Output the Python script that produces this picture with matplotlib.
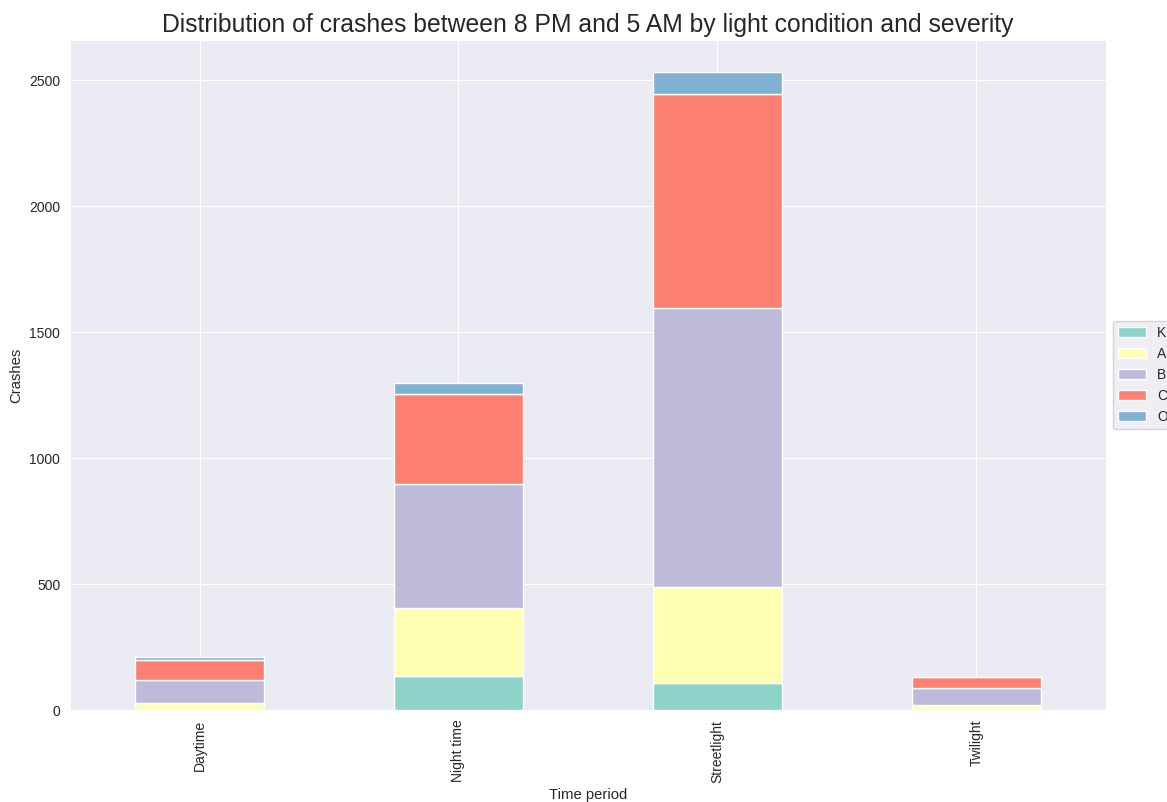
import numpy as np
import matplotlib
matplotlib.use("Agg")
import matplotlib.pyplot as plt
import seaborn as sns

sns.set_style("darkgrid")
plt.rcParams['font.family'] = ['Liberation Sans', 'DejaVu Sans']

# crash counts per light condition, stacked by severity
periods = ['Daytime', 'Night time', 'Streetlight', 'Twilight']
severity = ['K', 'A', 'B', 'C', 'O']
k_counts = [2, 136, 107, 3]
a_counts = [26, 267, 383, 15]
b_counts = [92, 494, 1105, 68]
c_counts = [78, 358, 850, 45]
o_counts = [12, 43, 87, 1]

colors = ['#8dd3c7', '#ffffb3', '#bebada', '#fb8072', '#80b1d3']

fig = plt.figure(figsize=(11.67, 8.02), dpi=100)
ax = fig.add_axes([0.060, 0.1147, 0.8877, 0.8353])

x = np.arange(len(periods))
bottom = np.zeros(len(periods))
for name, vals, col in zip(severity, [k_counts, a_counts, b_counts, c_counts, o_counts], colors):
    ax.bar(x, vals, width=0.5, bottom=bottom, color=col, label=name,
           edgecolor='white', linewidth=1)
    bottom += np.array(vals)

ax.set_xlim(-0.5, len(periods) - 0.5)
ax.set_ylim(0, bottom.max() * 1.05)
ax.set_xticks(x)
ax.set_xticklabels(periods, rotation=90)
ax.tick_params(labelsize=10, colors='#262626')
ax.set_xlabel('Time period', fontsize=10.7, color='#262626')
ax.set_ylabel('Crashes', fontsize=10.7, color='#262626')
ax.set_title('Distribution of crashes between 8 PM and 5 AM by light condition and severity',
             fontsize=17.8, color='#262626')
ax.legend(loc='center left', bbox_to_anchor=(1.0, 0.5), fontsize=10)

fig.savefig('out.png', dpi=100)
